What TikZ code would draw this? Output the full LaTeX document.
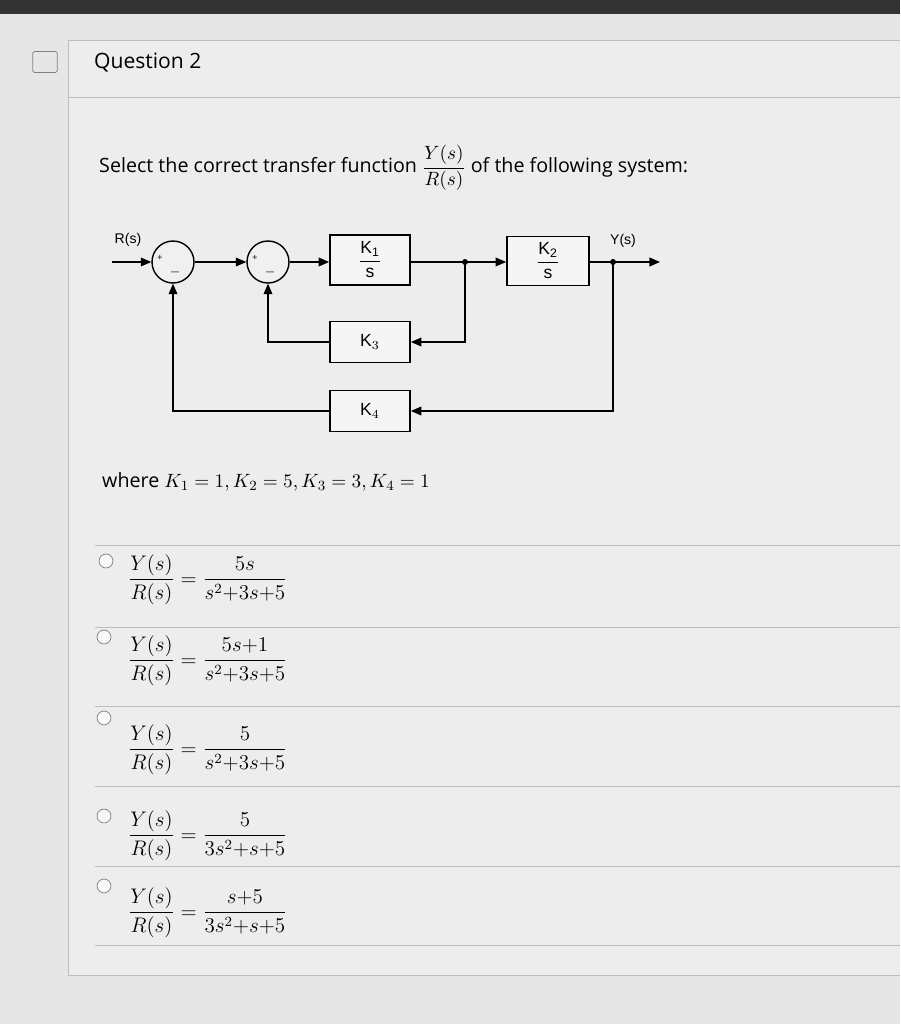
\documentclass[tikz,border=0pt]{standalone}
\usepackage{amsmath}
\usepackage{fontspec}
\setmainfont{Open Sans}
\setsansfont{Liberation Sans}
\usetikzlibrary{arrows.meta}
\definecolor{pagebg}{HTML}{E6E6E6}
\definecolor{panelbg}{HTML}{EDEDED}
\definecolor{rule}{HTML}{BDBDBD}
\tikzset{
  blk/.style={draw,line width=1pt,fill=white!60!pagebg,minimum width=1.6cm,minimum height=0.82cm,inner sep=1pt,font=\sffamily},
  sumj/.style={draw,line width=0.8pt,circle,minimum size=0.84cm,fill=white!40!pagebg},
  sig/.style={line width=0.7pt,-{Triangle[length=6pt,width=5pt]}},
  dot/.style={circle,fill,inner sep=1.2pt},
  radio/.style={draw=gray,circle,inner sep=2.8pt,fill=white!70!pagebg},
  body/.style={font=\fontsize{11.2}{13}\selectfont},
  answer/.style={anchor=west,font=\fontsize{11.5}{13}\selectfont}
}
\begin{document}
\begin{tikzpicture}[x=0.02cm,y=-0.02cm]
\useasboundingbox (0,0) rectangle (900,1024);
\fill[pagebg] (0,0) rectangle (900,1024);
\fill[black!80] (0,0) rectangle (900,14);
\fill[panelbg] (68,40) rectangle (900,975);
\draw[rule] (68,40) -- (68,975) -- (900,975);
\draw[rule] (68,97) -- (900,97);
\draw[rule] (68,40) -- (900,40);
\node[draw=gray,rounded corners=1pt,minimum width=14pt,minimum height=12pt] (flag) at (45,62) {};
\node[anchor=west,font=\large] (qtitle) at (88,63) {Question 2};
\node[anchor=west,body] (prompt) at (93,168) {Select the correct transfer function $\dfrac{Y(s)}{R(s)}$ of the following system:};

% block diagram
\coordinate (rin) at (112,262);
\node[sumj] (s1) at (173,262) {};
\node[sumj] (s2) at (268,262) {};
\node[blk,minimum height=1cm] (k1) at (370,260) {$\dfrac{\mathsf{K_1}}{\mathsf{s}}$};
\node[blk,minimum width=1.64cm,minimum height=0.98cm] (k2) at (548,261) {$\dfrac{\mathsf{K_2}}{\mathsf{s}}$};
\node[blk] (k3) at (370,342) {K$_3$};
\node[blk] (k4) at (370,411) {K$_4$};
\coordinate (j1) at (465,262);
\coordinate (j2) at (613,262);
\coordinate (yout) at (660,262);
\node[font=\sffamily\footnotesize] (rlab) at (128,240) {R(s)};
\node[font=\sffamily\footnotesize] (ylab) at (623,241) {Y(s)};
\node[font=\sffamily\tiny] at (160,258) {+};
\node[font=\sffamily\tiny] at (255,258) {+};
\node[font=\sffamily\scriptsize] at (175,272) {$-$};
\node[font=\sffamily\scriptsize] at (270,272) {$-$};
\draw[sig] (rin) -- (s1);
\draw[sig] (s1) -- (s2);
\draw[sig] (s2) -- (k1.west |- s2);
\draw[sig] (k1.east |- j1) -- (k2.west |- j1);
\draw[sig] (k2.east |- j2) -- (yout);
\node[dot] at (j1) {};
\node[dot] at (j2) {};
\draw[sig] (j1) |- (k3.east);
\draw[sig] (j2) |- (k4.east);
\draw[sig] (k3.west) -| (s2.south);
\draw[sig] (k4.west) -| (s1.south);

\node[anchor=west,body] (where) at (96,482) {where $K_1=1, K_2=5, K_3=3, K_4=1$};

% options
\foreach \y in {545,627,706,786,866,945}
  \draw[rule] (95,\y) -- (900,\y);
\node[radio] (o1) at (106,561) {};
\node[radio] (o2) at (104,637) {};
\node[radio] (o3) at (104,718) {};
\node[radio] (o4) at (104,816) {};
\node[radio] (o5) at (104,886) {};
\node[answer] (a1) at (122,580) {$\dfrac{Y(s)}{R(s)}=\dfrac{5s}{s^2{+}3s{+}5}$};
\node[answer] (a2) at (122,661) {$\dfrac{Y(s)}{R(s)}=\dfrac{5s{+}1}{s^2{+}3s{+}5}$};
\node[answer] (a3) at (122,750) {$\dfrac{Y(s)}{R(s)}=\dfrac{5}{s^2{+}3s{+}5}$};
\node[answer] (a4) at (122,836) {$\dfrac{Y(s)}{R(s)}=\dfrac{5}{3s^2{+}s{+}5}$};
\node[answer] (a5) at (122,913) {$\dfrac{Y(s)}{R(s)}=\dfrac{s{+}5}{3s^2{+}s{+}5}$};
\end{tikzpicture}
\end{document}
